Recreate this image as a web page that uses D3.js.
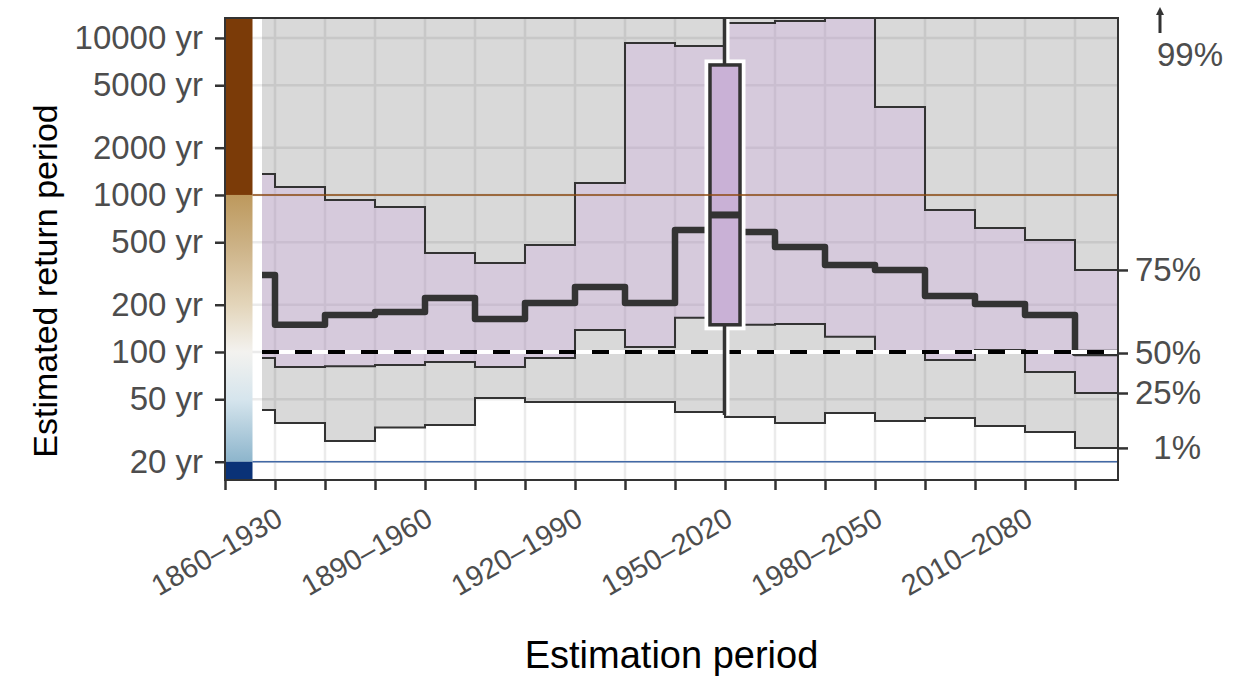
<!DOCTYPE html>
<html>
<head>
<meta charset="utf-8">
<script src="https://cdn.jsdelivr.net/npm/d3@7"></script>
<style>
  body { margin: 0; background: #fff; }
  text { font-family: "Liberation Sans", Arial, Helvetica, sans-serif; }
</style>
</head>
<body>
<div id="chart"></div>
<script>
// start year of each 70-year estimation window
var windowStarts = [1850, 1860, 1870, 1880, 1890, 1900, 1910, 1920, 1930,
                    1940, 1950, 1960, 1970, 1980, 1990, 2000, 2010, 2020];

// quantiles of the estimated return period (yr) for each window
var q75 = [1361, 1124, 930, 839, 427, 369, 480, 1192, 9290, 8892, 12460, 12830, 20000, 3636, 803, 616, 517, 333];
var q50 = [309, 149, 172, 180, 221, 162, 205, 259, 205, 598, 581, 466, 358, 333, 227, 202, 172, 98.5];
var q25 = [91.6, 80.3, 81, 82.6, 86.3, 80.3, 91.6, 138, 107.6, 165, 149, 151, 125, 100, 89, 103, 74.6, 54.8];
var q01 = [42.7, 35.3, 27.1, 33, 34.3, 50.9, 48, 48, 48, 41.5, 38.6, 35.3, 40.9, 36.3, 38, 33.8, 30.9, 24.5];

// boxplot for the 1950-2020 window: lower whisker, q1, median, q3, upper whisker
var boxYear = 1950;
var boxValues = [39.7, 149, 746, 6730, 20000];

// axis ticks and labels
var yTicks = [20, 50, 100, 200, 500, 1000, 2000, 5000, 10000];
var xLabelYears = [1860, 1890, 1920, 1950, 1980, 2010];
var xLabels = ["1860–1930", "1890–1960", "1920–1990", "1950–2020", "1980–2050", "2010–2080"];
var rightLabels = ["75%", "50%", "25%", "1%"];

// reference return periods
var refValue = 100;
var upperRef = 1000;
var lowerRef = 20;

var svgWidth = 1250;
var svgHeight = 677;
var panel = { left: 225, right: 1118, top: 18, bottom: 480 };

var svg = d3.select("#chart")
  .append("svg")
  .attr("width", svgWidth)
  .attr("height", svgHeight);

// scales
var xScale = d3.scaleLinear()
  .domain([1850, 2028.6])
  .range([panel.left, panel.right]);

var yScale = d3.scaleLog()
  .domain([15.3, 13400])
  .range([panel.bottom, panel.top]);

var dataStart = 1857.4;
var dataEnd = 2030;
var cbEnd = 1855.5;
var yTop = yScale.domain()[1];

svg.append("defs").append("clipPath")
  .attr("id", "panelClip")
  .append("rect")
  .attr("x", panel.left)
  .attr("y", panel.top)
  .attr("width", panel.right - panel.left)
  .attr("height", panel.bottom - panel.top);

// panel background
svg.append("rect")
  .attr("x", panel.left)
  .attr("y", panel.top)
  .attr("width", panel.right - panel.left)
  .attr("height", panel.bottom - panel.top)
  .attr("fill", "#ffffff");

var plot = svg.append("g").attr("clip-path", "url(#panelClip)");

// grid lines
plot.selectAll(".vgrid")
  .data(windowStarts)
  .enter()
  .append("line")
  .attr("x1", d => xScale(d))
  .attr("x2", d => xScale(d))
  .attr("y1", panel.top)
  .attr("y2", panel.bottom)
  .attr("stroke", "#ebebeb")
  .attr("stroke-width", 2.5);

plot.selectAll(".hgrid")
  .data(yTicks)
  .enter()
  .append("line")
  .attr("x1", panel.left)
  .attr("x2", panel.right)
  .attr("y1", d => yScale(d))
  .attr("y2", d => yScale(d))
  .attr("stroke", "#ebebeb")
  .attr("stroke-width", 2.5);

// step data
var steps = windowStarts.map(function(yr, i) {
  return { x: i === 0 ? dataStart : yr, q75: q75[i], q50: q50[i], q25: q25[i], q01: q01[i] };
});
var last = steps[steps.length - 1];
steps.push({ x: dataEnd, q75: last.q75, q50: last.q50, q25: last.q25, q01: last.q01 });

// 1%-99% band (99% lies above the panel)
plot.append("path")
  .datum(steps)
  .attr("fill", "rgba(0,0,0,0.15)")
  .attr("d", d3.area()
    .curve(d3.curveStepAfter)
    .x(d => xScale(d.x))
    .y0(d => yScale(d.q01))
    .y1(yScale(yTop) - 5));

// 25%-75% band
plot.append("path")
  .datum(steps)
  .attr("fill", "rgba(207,170,230,0.3)")
  .attr("d", d3.area()
    .curve(d3.curveStepAfter)
    .x(d => xScale(d.x))
    .y0(d => yScale(d.q25))
    .y1(d => yScale(d.q75)));

// thin quantile lines
["q75", "q25", "q01"].forEach(function(key) {
  plot.append("path")
    .datum(steps)
    .attr("fill", "none")
    .attr("stroke", "#333333")
    .attr("stroke-width", 2)
    .attr("d", d3.line()
      .curve(d3.curveStepAfter)
      .x(d => xScale(d.x))
      .y(d => yScale(d[key])));
});

// median
plot.append("path")
  .datum(steps)
  .attr("fill", "none")
  .attr("stroke", "#333333")
  .attr("stroke-width", 6.5)
  .attr("stroke-linejoin", "round")
  .attr("d", d3.line()
    .curve(d3.curveStepAfter)
    .x(d => xScale(d.x))
    .y(d => yScale(d.q50)));

// dashed 100 yr reference
plot.append("line")
  .attr("x1", xScale(dataStart))
  .attr("x2", xScale(dataEnd))
  .attr("y1", yScale(refValue))
  .attr("y2", yScale(refValue))
  .attr("stroke", "#ffffff")
  .attr("stroke-width", 4);

plot.append("line")
  .attr("x1", xScale(dataStart))
  .attr("x2", xScale(dataEnd))
  .attr("y1", yScale(refValue))
  .attr("y2", yScale(refValue))
  .attr("stroke", "#000000")
  .attr("stroke-width", 4)
  .attr("stroke-dasharray", "17,16");

// boxplot for the current window
var bx0 = xScale(boxYear - 3);
var bx1 = xScale(boxYear + 3);
var bxc = xScale(boxYear) - 0.5;

plot.append("line")
  .attr("x1", bxc + 3).attr("x2", bxc + 3)
  .attr("y1", yScale(boxValues[0]))
  .attr("y2", yScale(boxValues[4]))
  .attr("stroke", "#ffffff")
  .attr("stroke-width", 4);

plot.append("rect")
  .attr("x", bx0).attr("width", bx1 - bx0)
  .attr("y", yScale(boxValues[3]))
  .attr("height", yScale(boxValues[1]) - yScale(boxValues[3]))
  .attr("fill", "#ffffff")
  .attr("stroke", "#ffffff")
  .attr("stroke-width", 11);

plot.append("line")
  .attr("x1", bxc).attr("x2", bxc)
  .attr("y1", yScale(boxValues[0]))
  .attr("y2", yScale(boxValues[1]))
  .attr("stroke", "#333333")
  .attr("stroke-width", 3.5);

plot.append("line")
  .attr("x1", bxc).attr("x2", bxc)
  .attr("y1", yScale(boxValues[3]))
  .attr("y2", yScale(boxValues[4]))
  .attr("stroke", "#333333")
  .attr("stroke-width", 3.5);

plot.append("rect")
  .attr("x", bx0).attr("width", bx1 - bx0)
  .attr("y", yScale(boxValues[3]))
  .attr("height", yScale(boxValues[1]) - yScale(boxValues[3]))
  .attr("fill", "#c9b1d6")
  .attr("stroke", "#333333")
  .attr("stroke-width", 3.5);

plot.append("line")
  .attr("x1", bx0).attr("x2", bx1)
  .attr("y1", yScale(boxValues[2]))
  .attr("y2", yScale(boxValues[2]))
  .attr("stroke", "#333333")
  .attr("stroke-width", 7);

// colour bar on the left of the panel
var grad = svg.select("defs").append("linearGradient")
  .attr("id", "cbGrad")
  .attr("gradientUnits", "userSpaceOnUse")
  .attr("x1", 0).attr("x2", 0)
  .attr("y1", yScale(upperRef))
  .attr("y2", yScale(lowerRef));

var gradStops = [[1000, "#bd995d"], [500, "#cbb083"], [200, "#e3d5ba"], [100, "#f3f2ef"], [50, "#d6e5ed"], [20, "#8db5cc"]];
gradStops.forEach(function(s) {
  grad.append("stop")
    .attr("offset", (yScale(s[0]) - yScale(upperRef)) / (yScale(lowerRef) - yScale(upperRef)))
    .attr("stop-color", s[1]);
});

plot.append("rect")
  .attr("x", xScale(1850)).attr("width", xScale(cbEnd) - xScale(1850))
  .attr("y", yScale(yTop)).attr("height", yScale(upperRef) - yScale(yTop))
  .attr("fill", "#7b3b08");

plot.append("rect")
  .attr("x", xScale(1850)).attr("width", xScale(cbEnd) - xScale(1850))
  .attr("y", yScale(upperRef)).attr("height", yScale(lowerRef) - yScale(upperRef))
  .attr("fill", "url(#cbGrad)");

plot.append("rect")
  .attr("x", xScale(1850)).attr("width", xScale(cbEnd) - xScale(1850))
  .attr("y", yScale(lowerRef)).attr("height", panel.bottom - yScale(lowerRef))
  .attr("fill", "#0a3277");

// upper and lower reference lines
plot.append("line")
  .attr("x1", xScale(cbEnd)).attr("x2", panel.right)
  .attr("y1", yScale(upperRef)).attr("y2", yScale(upperRef))
  .attr("stroke", "#8c4a10")
  .attr("stroke-width", 1.5);

plot.append("line")
  .attr("x1", xScale(cbEnd)).attr("x2", panel.right)
  .attr("y1", yScale(lowerRef)).attr("y2", yScale(lowerRef))
  .attr("stroke", "#4269a6")
  .attr("stroke-width", 1.5);

// panel border
svg.append("rect")
  .attr("x", panel.left)
  .attr("y", panel.top)
  .attr("width", panel.right - panel.left)
  .attr("height", panel.bottom - panel.top)
  .attr("fill", "none")
  .attr("stroke", "#333333")
  .attr("stroke-width", 2);

// axes
var leftAxis = d3.axisLeft(yScale)
  .tickValues(yTicks)
  .tickFormat(d => d + " yr")
  .tickSize(10)
  .tickPadding(12);

var labelMap = {};
xLabelYears.forEach((yr, i) => { labelMap[yr] = xLabels[i]; });

var bottomAxis = d3.axisBottom(xScale)
  .tickValues(windowStarts)
  .tickFormat(d => labelMap[d] || "")
  .tickSize(10);

var rightAxis = d3.axisRight(yScale)
  .tickValues([last.q75, last.q50, last.q25, last.q01])
  .tickFormat((d, i) => rightLabels[i])
  .tickSize(10);

var gLeft = svg.append("g")
  .attr("transform", `translate(${panel.left}, 0)`)
  .call(leftAxis);

var gBottom = svg.append("g")
  .attr("transform", `translate(0, ${panel.bottom})`)
  .call(bottomAxis);

var gRight = svg.append("g")
  .attr("transform", `translate(${panel.right}, 0)`)
  .call(rightAxis);

[gLeft, gBottom, gRight].forEach(function(g) {
  g.select(".domain").remove();
  g.selectAll(".tick line").attr("stroke", "#333333").attr("stroke-width", 2.5);
  g.selectAll(".tick text")
    .attr("fill", "#4d4d4d")
    .attr("font-size", "33px")
    .attr("font-family", "Liberation Sans, Arial, sans-serif");
});

gBottom.selectAll(".tick text")
  .attr("text-anchor", "end")
  .attr("x", 0)
  .attr("y", 0)
  .attr("dy", 0)
  .attr("font-size", "29px")
  .attr("transform", "translate(9, 44) rotate(-30)");

gRight.selectAll(".tick text")
  .attr("text-anchor", "end")
  .attr("x", 83);

// 99% is above the panel
var arrowX = panel.right + 42;
svg.append("line")
  .attr("x1", arrowX).attr("x2", arrowX)
  .attr("y1", 33).attr("y2", 14)
  .attr("stroke", "#333333")
  .attr("stroke-width", 3);

svg.append("path")
  .attr("d", `M${arrowX - 4},15 L${arrowX},7 L${arrowX + 4},15 Z`)
  .attr("fill", "#333333");

svg.append("text")
  .attr("x", arrowX - 3)
  .attr("y", 66)
  .attr("fill", "#4d4d4d")
  .attr("font-size", "33px")
  .text("99%");

// axis titles
svg.append("text")
  .attr("transform", `translate(${(panel.left + panel.right) / 2}, 668)`)
  .attr("text-anchor", "middle")
  .attr("font-size", "38px")
  .attr("fill", "#000000")
  .text("Estimation period");

svg.append("text")
  .attr("transform", "translate(57, 281) rotate(-90)")
  .attr("text-anchor", "middle")
  .attr("font-size", "34px")
  .attr("fill", "#000000")
  .text("Estimated return period");
</script>
</body>
</html>
